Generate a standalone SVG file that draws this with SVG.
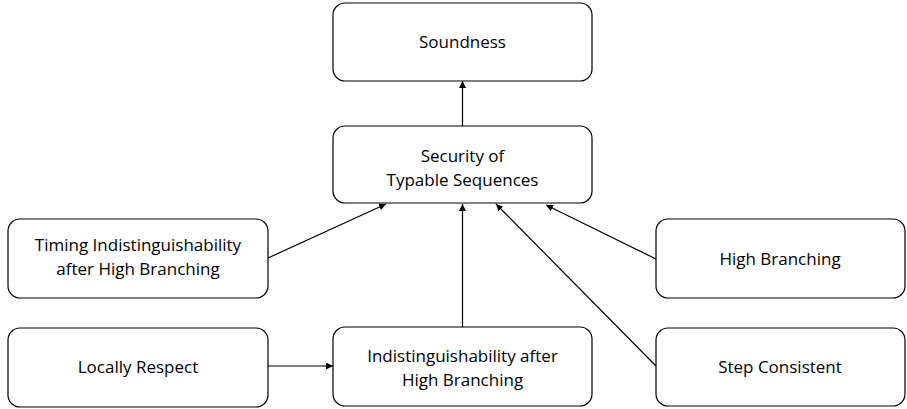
<svg xmlns="http://www.w3.org/2000/svg" width="907" height="409" viewBox="0 0 907 409">
<style>
.box{fill:#fff;stroke:#000;stroke-width:1.2}
.t{font-family:"Open Sans","Liberation Sans",sans-serif;font-size:17px;text-anchor:middle;fill:#000}
.c{stroke:#000;stroke-width:1.2;fill:none;marker-end:url(#ah)}
</style>
<defs>
<marker id="ah" viewBox="0 0 10 10" refX="10" refY="5" markerWidth="7" markerHeight="7" markerUnits="userSpaceOnUse" orient="auto">
<path d="M0,0 L10,5 L0,10 z" fill="#000"/>
</marker>
</defs>
<g id="soundness"><rect class="box" x="333" y="3" width="259" height="78" rx="12"/><text class="t" x="462.5" y="48">Soundness</text></g>
<g id="security"><rect class="box" x="333" y="126" width="259" height="77" rx="12"/><text class="t" x="462.5" y="162">Security of</text><text class="t" x="462.5" y="186">Typable Sequences</text></g>
<g id="timing"><rect class="box" x="8" y="219" width="260" height="79" rx="12"/><text class="t" x="138" y="251">Timing Indistinguishability</text><text class="t" x="138" y="275">after High Branching</text></g>
<g id="locally"><rect class="box" x="8" y="328" width="260" height="79" rx="12"/><text class="t" x="138" y="373">Locally Respect</text></g>
<g id="indist"><rect class="box" x="333" y="327" width="259" height="79" rx="12"/><text class="t" x="462.5" y="362">Indistinguishability after</text><text class="t" x="462.5" y="386">High Branching</text></g>
<g id="highbranching"><rect class="box" x="656" y="219" width="249" height="79" rx="12"/><text class="t" x="780" y="265">High Branching</text></g>
<g id="step"><rect class="box" x="656" y="328" width="249" height="78" rx="12"/><text class="t" x="780" y="373">Step Consistent</text></g>
<g id="connectors">
<line class="c" x1="462.5" y1="126" x2="462.5" y2="81"/>
<line class="c" x1="268" y1="258" x2="386" y2="204"/>
<line class="c" x1="462.5" y1="327" x2="462.5" y2="204"/>
<line class="c" x1="268" y1="366" x2="333" y2="366"/>
<line class="c" x1="656" y1="259" x2="546" y2="205"/>
<line class="c" x1="656" y1="366" x2="496" y2="204"/>
</g>
</svg>
